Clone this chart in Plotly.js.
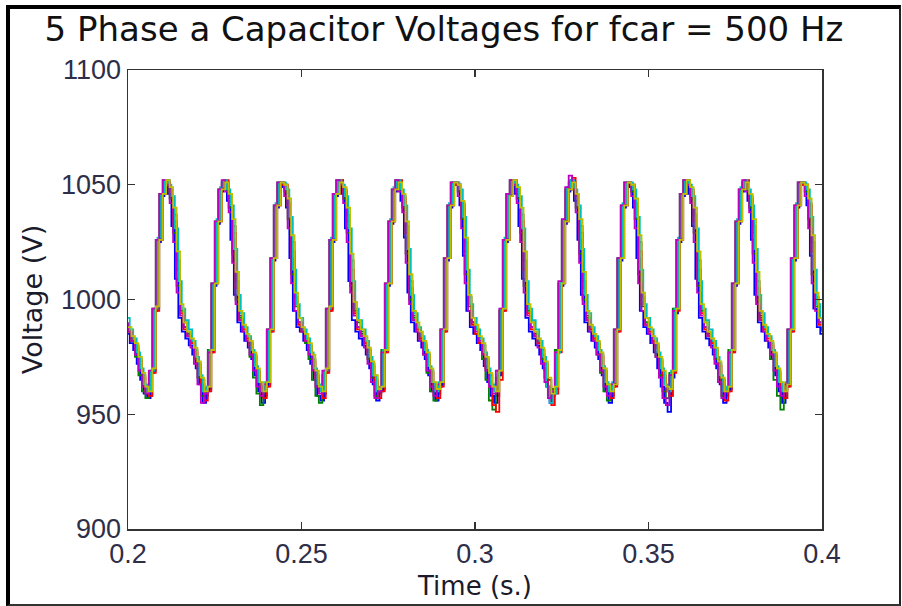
<!DOCTYPE html>
<html>
<head>
<meta charset="utf-8">
<script src="https://cdn.plot.ly/plotly-3.0.1.min.js"></script>
<style>
  html, body { margin: 0; padding: 0; background: #ffffff; }
  #wrap { position: relative; width: 902px; height: 606px; }
  #chart { position: absolute; left: 0; top: 0; width: 902px; height: 606px; }
  #frame { position: absolute; left: 6px; top: 5px; width: 895px; height: 601px; box-sizing: border-box;
           border-left: 4px solid #000; border-top: 4px solid #000; border-right: 2px solid #222; border-bottom: 2px solid #333;
           pointer-events: none; }
</style>
</head>
<body>
<div id="wrap"><div id="chart"></div><div id="frame"></div></div>
<script>
const titleText = "5 Phase a Capacitor Voltages for fcar = 500 Hz";
const xTitle = "Time (s.)";
const yTitle = "Voltage (V)";
const xTickVals = [0.2, 0.25, 0.3, 0.35, 0.4];
const xTickText = ["0.2", "0.25", "0.3", "0.35", "0.4"];
const yTickVals = [900, 950, 1000, 1050, 1100];
const yTickText = ["900", "950", "1000", "1050", "1100"];
const seriesNames = ["Cap 7", "Cap 1", "Cap 2", "Cap 3", "Cap 4", "Cap 5", "Cap 6"];

const time = [
0.200,0.201,0.202,0.203,0.204,0.205,0.206,0.207,0.208,0.209,
0.210,0.211,0.212,0.213,0.214,0.215,0.216,0.217,0.218,0.219,
0.220,0.221,0.222,0.223,0.224,0.225,0.226,0.227,0.228,0.229,
0.230,0.231,0.232,0.233,0.234,0.235,0.236,0.237,0.238,0.239,
0.240,0.241,0.242,0.243,0.244,0.245,0.246,0.247,0.248,0.249,
0.250,0.251,0.252,0.253,0.254,0.255,0.256,0.257,0.258,0.259,
0.260,0.261,0.262,0.263,0.264,0.265,0.266,0.267,0.268,0.269,
0.270,0.271,0.272,0.273,0.274,0.275,0.276,0.277,0.278,0.279,
0.280,0.281,0.282,0.283,0.284,0.285,0.286,0.287,0.288,0.289,
0.290,0.291,0.292,0.293,0.294,0.295,0.296,0.297,0.298,0.299,
0.300,0.301,0.302,0.303,0.304,0.305,0.306,0.307,0.308,0.309,
0.310,0.311,0.312,0.313,0.314,0.315,0.316,0.317,0.318,0.319,
0.320,0.321,0.322,0.323,0.324,0.325,0.326,0.327,0.328,0.329,
0.330,0.331,0.332,0.333,0.334,0.335,0.336,0.337,0.338,0.339,
0.340,0.341,0.342,0.343,0.344,0.345,0.346,0.347,0.348,0.349,
0.350,0.351,0.352,0.353,0.354,0.355,0.356,0.357,0.358,0.359,
0.360,0.361,0.362,0.363,0.364,0.365,0.366,0.367,0.368,0.369,
0.370,0.371,0.372,0.373,0.374,0.375,0.376,0.377,0.378,0.379,
0.380,0.381,0.382,0.383,0.384,0.385,0.386,0.387,0.388,0.389,
0.390,0.391,0.392,0.393,0.394,0.395,0.396,0.397,0.398,0.399,
0.400];

const vBlue = [
985,981,978,972,965,959,957,968,995,1025, 1045,1051,1046,1032,1009,992,986,983,980,976,
970,963,955,960,977,1006,1033,1047,1051,1043, 1026,1002,990,986,982,979,974,967,960,955,
962,986,1017,1040,1050,1049,1040,1018,995,988,
986,982,978,972,965,958,956,968,995,1025, 1045,1051,1046,1031,1008,991,986,983,980,976,
970,963,956,960,977,1006,1033,1047,1052,1043, 1027,1003,990,986,982,979,974,967,960,956,
962,986,1017,1040,1050,1050,1041,1019,995,988,
985,981,978,971,964,958,955,967,995,1025, 1045,1051,1046,1032,1009,992,986,983,980,976,
970,962,955,960,977,1006,1033,1047,1052,1043, 1026,1002,990,986,982,979,974,967,960,955,
962,986,1017,1040,1050,1049,1040,1018,995,988,
985,981,977,970,962,955,951,966,994,1025, 1045,1051,1046,1032,1009,992,986,983,980,976,
970,963,955,960,977,1006,1033,1047,1051,1043, 1026,1002,990,986,982,979,974,967,960,955,
962,986,1017,1040,1050,1050,1041,1019,996,988,
985];

const vGreen = [
990,986,982,975,967,960,957,968,996,1026, 1046,1052,1050,1044,1029,1006,995,990,986,981,
974,966,958,961,978,1007,1034,1048,1051,1048, 1040,1020,1000,992,987,983,975,966,959,954,
961,987,1018,1041,1051,1051,1047,1035,1011,997,
990,986,981,974,965,958,955,967,996,1026, 1046,1052,1050,1044,1029,1006,995,990,986,981,
974,966,958,961,978,1007,1034,1048,1052,1048, 1040,1020,1000,992,987,983,976,968,960,956,
962,987,1018,1041,1051,1051,1047,1035,1011,997,
990,985,981,974,965,956,952,966,995,1026, 1046,1052,1050,1044,1029,1006,995,990,986,981,
974,966,958,961,978,1007,1034,1048,1051,1048, 1040,1020,1000,992,987,983,976,968,960,956,
962,987,1018,1041,1051,1051,1047,1035,1011,997,
990,986,982,975,967,960,957,968,996,1026, 1046,1052,1050,1044,1029,1006,995,990,986,981,
974,966,958,961,978,1007,1034,1048,1051,1048, 1040,1020,1000,992,987,982,974,965,958,952,
961,987,1018,1041,1051,1051,1047,1035,1011,997,
990];

const vRed = [
986,982,979,973,966,960,958,968,995,1026, 1046,1051,1047,1034,1013,994,987,984,981,977,
971,963,956,960,977,1007,1034,1048,1052,1044, 1029,1005,991,987,983,980,975,968,961,957,
962,986,1018,1041,1050,1050,1041,1021,998,989,
986,982,979,973,966,960,957,968,995,1026, 1046,1052,1047,1034,1013,994,987,984,981,977,
971,964,957,960,977,1007,1034,1048,1052,1044, 1029,1005,991,987,983,980,975,968,961,957,
962,986,1018,1041,1050,1050,1041,1021,998,989,
985,981,977,970,962,954,951,965,995,1026, 1046,1052,1047,1034,1013,994,987,984,981,976,
969,962,954,959,977,1007,1034,1048,1053,1045, 1029,1005,991,987,983,980,975,968,961,957,
962,986,1018,1041,1051,1050,1041,1021,998,989,
986,982,979,973,966,960,958,968,995,1026, 1046,1051,1047,1034,1013,994,987,984,981,977,
971,963,956,960,977,1007,1034,1048,1052,1044, 1029,1005,991,987,983,980,975,968,961,957,
962,986,1018,1041,1050,1050,1041,1021,998,989,
986];

const vCyan = [
992,987,983,977,970,963,960,969,996,1027, 1046,1052,1050,1045,1031,1008,996,991,987,982,
975,967,960,962,978,1007,1035,1049,1052,1048, 1041,1022,1002,994,988,984,978,971,964,960,
964,987,1018,1042,1051,1051,1048,1036,1013,998,
992,987,983,977,970,963,960,969,996,1027, 1046,1052,1050,1045,1031,1008,996,991,987,982,
975,967,960,962,978,1007,1035,1049,1052,1048, 1041,1022,1002,994,988,984,978,971,964,960,
964,987,1018,1042,1051,1051,1048,1036,1013,998,
992,987,983,977,970,963,960,969,996,1027, 1046,1052,1050,1045,1031,1008,996,991,987,982,
975,962,955,959,977,1007,1035,1049,1052,1048, 1041,1022,1002,994,988,984,978,971,964,960,
964,987,1018,1042,1051,1051,1048,1036,1013,998,
992,987,983,977,970,963,960,969,996,1027, 1046,1052,1050,1045,1031,1008,996,991,987,982,
975,967,960,962,978,1007,1035,1049,1052,1048, 1041,1022,1002,994,988,984,978,971,964,960,
964,987,1018,1042,1051,1051,1048,1036,1013,998,
992];

const vMagenta = [
990,986,982,976,969,962,959,969,996,1026, 1046,1052,1050,1042,1025,1003,993,988,984,979,
972,963,955,959,977,1007,1034,1048,1052,1047, 1038,1016,998,991,986,982,976,969,962,958,
963,987,1018,1041,1051,1051,1045,1031,1007,995,
990,986,982,976,969,962,959,969,996,1026, 1046,1052,1050,1042,1025,1003,993,988,984,979,
972,964,957,960,977,1007,1034,1048,1052,1047, 1038,1016,998,991,986,982,976,969,962,958,
963,987,1018,1041,1051,1051,1045,1031,1007,995,
990,986,982,976,969,962,959,969,996,1026, 1046,1052,1050,1042,1025,1003,993,988,984,979,
972,964,957,960,977,1008,1035,1049,1054,1048, 1038,1016,998,991,986,982,976,969,962,958,
963,987,1018,1041,1051,1051,1045,1031,1007,995,
989,985,981,975,966,957,954,967,995,1026, 1046,1052,1050,1042,1025,1003,993,988,984,979,
972,964,957,960,977,1007,1034,1048,1052,1047, 1038,1016,998,991,986,982,976,969,962,958,
963,987,1018,1041,1051,1051,1045,1031,1007,995,
990];

const vBlack = [
987,983,980,974,967,961,958,969,996,1026, 1046,1052,1048,1037,1017,996,988,985,982,978,
972,965,958,961,978,1007,1034,1048,1051,1045, 1032,1008,993,988,984,981,976,969,962,958,
963,987,1018,1041,1051,1050,1042,1025,1001,990,
987,983,980,974,967,961,959,969,996,1026, 1046,1052,1048,1037,1017,996,988,985,982,978,
972,965,959,961,978,1007,1034,1048,1051,1045, 1032,1008,993,988,984,981,976,969,962,959,
963,987,1018,1041,1051,1050,1042,1025,1001,990,
987,983,980,974,967,961,958,969,996,1026, 1046,1052,1048,1037,1017,996,988,985,982,978,
972,965,958,961,978,1007,1034,1048,1051,1045, 1032,1008,993,988,984,981,976,969,962,958,
963,987,1018,1041,1051,1050,1042,1025,1001,990,
987,983,980,974,967,961,958,969,996,1026, 1046,1052,1048,1037,1017,996,988,985,982,978,
972,965,958,961,978,1007,1034,1048,1051,1045, 1032,1008,993,988,984,981,976,969,962,957,
963,987,1018,1041,1051,1050,1042,1025,1001,990,
987];

const vYellow = [
988,984,981,975,968,962,960,970,997,1026, 1046,1052,1049,1040,1021,998,990,986,983,979,
973,966,960,962,978,1007,1034,1048,1051,1046, 1035,1012,995,989,985,982,977,970,964,960,
964,987,1018,1041,1051,1050,1044,1028,1003,992,
988,985,981,976,969,962,960,970,997,1026, 1046,1051,1049,1040,1020,999,991,987,984,979,
973,967,961,962,978,1007,1034,1048,1051,1046, 1034,1011,995,990,986,982,977,970,964,961,
964,987,1018,1041,1051,1050,1043,1027,1002,992,
989,984,981,975,968,962,960,969,996,1026, 1045,1052,1049,1040,1021,998,990,986,983,979,
973,966,959,962,978,1007,1034,1048,1051,1046, 1035,1012,995,989,985,982,977,970,963,960,
963,987,1018,1041,1051,1050,1044,1028,1003,992,
988,984,981,975,969,962,961,969,996,1026, 1046,1052,1049,1040,1021,998,990,986,983,979,
973,966,960,962,978,1007,1034,1048,1051,1046, 1035,1012,995,989,985,982,977,970,964,960,
963,987,1018,1041,1051,1050,1044,1028,1003,992,
988];

const seriesValues = [vBlack, vBlue, vGreen, vRed, vCyan, vMagenta, vYellow];
const seriesColors = ["#404040", "#0000ff", "#008000", "#ff0000", "#00bfbf", "#bf00bf", "#bfbf00"];
const seriesShapes = ["hv", "hvh", "vh", "hv", "hvh", "vh", "hv"];

const traces = seriesValues.map((vals, i) => ({
  type: "scatter",
  mode: "lines",
  x: time,
  y: vals,
  name: seriesNames[i],
  line: { color: seriesColors[i], width: 1.8, shape: seriesShapes[i] },
  hoverinfo: "x+y+name"
}));

const axisCommon = {
  showgrid: false,
  zeroline: false,
  showline: true,
  linecolor: "#333333",
  linewidth: 1.5,
  mirror: "ticks",
  ticks: "inside",
  ticklen: 7,
  tickwidth: 1.3,
  tickcolor: "#333333",
  tickmode: "array",
  tickfont: { family: "Liberation Sans, Arial, sans-serif", size: 27, color: "#2e2e48" }
};

const layout = {
  width: 902,
  height: 606,
  paper_bgcolor: "#ffffff",
  plot_bgcolor: "#ffffff",
  showlegend: false,
  margin: { l: 128, r: 80, t: 70, b: 77 },
  title: {
    text: titleText,
    font: { family: "DejaVu Sans, sans-serif", size: 34, color: "#111111" },
    xref: "container", x: 444 / 902, xanchor: "center",
    yref: "container", y: 1 - 17 / 606, yanchor: "top"
  },
  xaxis: Object.assign({}, axisCommon, {
    range: [0.2, 0.4],
    tickvals: xTickVals,
    ticktext: xTickText,
    title: { text: xTitle, standoff: 9, font: { family: "DejaVu Sans, sans-serif", size: 26, color: "#1a1a2a" } }
  }),
  yaxis: Object.assign({}, axisCommon, {
    range: [900, 1100],
    tickvals: yTickVals,
    ticktext: yTickText,
    title: { text: yTitle, standoff: 10, font: { family: "DejaVu Sans, sans-serif", size: 27, color: "#1a1a2a" } }
  })
};

Plotly.newPlot("chart", traces, layout, { displayModeBar: false, staticPlot: true });
</script>
</body>
</html>
